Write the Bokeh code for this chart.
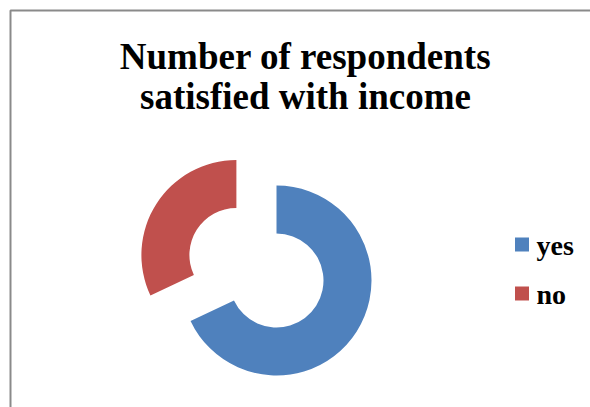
import math
from bokeh.plotting import figure
from bokeh.models import Range1d, ColumnDataSource
from bokeh.core.properties import value
from bokeh.embed import file_html
from bokeh.resources import INLINE

# ---- data ----
categories = ["yes", "no"]
counts = [68, 32]
colors = ["#4F81BD", "#C0504D"]
explode = [0.0, 0.5]          # fraction of outer radius
title_lines = ["Number of respondents", "satisfied with income"]

W, H = 590, 407
p = figure(width=W, height=H, output_backend="svg", toolbar_location=None,
           x_range=Range1d(0, W), y_range=Range1d(0, H), min_border=0)
p.axis.visible = False
p.grid.visible = False
p.outline_line_color = None
p.background_fill_color = "white"
p.border_fill_color = "white"

# chart border (partly outside window)
p.line(x=[10, 10, 600], y=[-10, H - 10, H - 10], line_color="#8a8a8a", line_width=2)

# ---- donut ----
cx, cy = 276, 127
R, r = 95, 47
total = sum(counts)
start = math.pi / 2
xs, ys, sa, ea = [], [], [], []
for c, e in zip(counts, explode):
    sweep = c / total * 2 * math.pi
    end = start - sweep
    mid = (start + end) / 2
    xs.append(cx + e * R * math.cos(mid))
    ys.append(cy + e * R * math.sin(mid))
    sa.append(end)
    ea.append(start)
    start = end
src = ColumnDataSource(dict(x=xs, y=ys, sa=sa, ea=ea, color=colors, cat=categories))
p.annular_wedge(x="x", y="y", inner_radius=r, outer_radius=R, start_angle="sa",
                end_angle="ea", fill_color="color", line_color=None, source=src)

# ---- title ----
p.text(x=[305, 305], y=[H - 56, H - 96], text=title_lines, text_align="center",
       text_baseline="alphabetic", text_font=value("Liberation Serif"),
       text_font_style="bold", text_font_size="37px", text_color="black")

# ---- legend ----
ly = [H - 244, H - 293]
p.rect(x=[521.5] * 2, y=ly, width=14, height=14, fill_color=colors, line_color=None)
p.text(x=[536] * 2, y=[H - 245, H - 294], text=categories, text_align="left",
       text_baseline="alphabetic", text_font=value("Liberation Serif"),
       text_font_style="bold", text_font_size="28px", text_color="black")

open("out.html", "w").write(file_html(p, INLINE))
